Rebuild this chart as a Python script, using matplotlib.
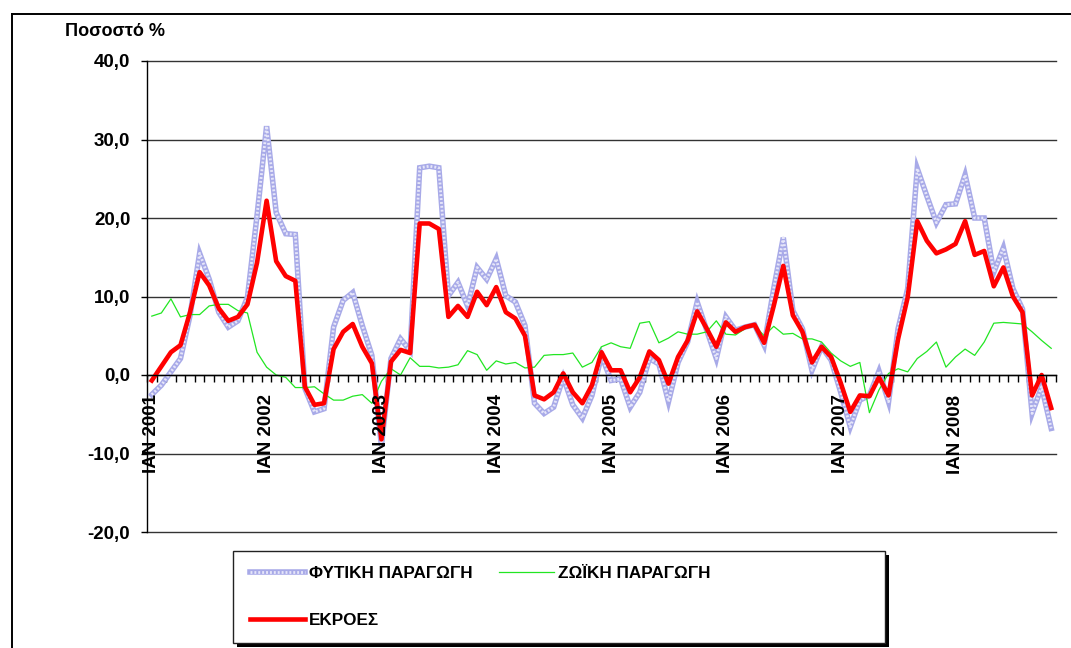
import matplotlib
matplotlib.use("Agg")
import matplotlib.pyplot as plt
from matplotlib.lines import Line2D
from matplotlib.patches import Rectangle
from matplotlib.ticker import FuncFormatter, FixedLocator

plt.rcParams['font.family'] = ['Liberation Sans', 'DejaVu Sans']

# --- data: monthly % change, Jan 2001 .. Nov 2008 ---
fytiki = [-2.5, -1.3, 0.4, 2.1, 7.6, 15.5, 12.2, 8.0, 6.1, 6.9, 9.9, 20.3,
          31.7, 20.7, 18.0, 17.9, -1.7, -4.7, -4.3, 6.1, 9.5, 10.5, 6.3, 2.5,
          -9.0, 2.1, 4.6, 3.1, 26.4, 26.6, 26.4, 10.1, 11.8, 8.8, 13.7, 12.2,
          14.8, 10.1, 9.3, 6.3, -3.6, -4.9, -4.1, -0.3, -3.8, -5.5, -2.6, 2.5,
          -0.7, -0.5, -4.1, -2.2, 2.1, 1.4, -3.4, 1.6, 4.2, 9.3, 5.7, 2.1,
          7.4, 5.7, 6.1, 6.4, 3.8, 11.0, 17.5, 8.2, 5.9, 0.6, 3.6, 1.9,
          -2.2, -6.6, -3.2, -2.6, 0.5, -3.4, 5.9, 11.0, 26.3, 22.8, 19.4, 21.7,
          21.8, 25.5, 20.0, 20.0, 13.1, 16.2, 11.0, 8.4, -4.9, -1.5, -6.8]

zoiki = [7.5, 7.9, 9.7, 7.4, 7.7, 7.7, 8.8, 9.0, 9.0, 8.2, 7.9, 2.9,
         1.0, 0.0, -0.3, -1.6, -1.6, -1.5, -2.4, -3.2, -3.2, -2.7, -2.5, -3.6,
         -0.8, 0.8, 0.0, 2.2, 1.1, 1.1, 0.9, 1.0, 1.3, 3.1, 2.6, 0.6,
         1.8, 1.4, 1.6, 0.9, 1.0, 2.5, 2.6, 2.6, 2.8, 1.0, 1.6, 3.6,
         4.1, 3.6, 3.4, 6.6, 6.8, 4.1, 4.7, 5.5, 5.2, 5.2, 5.5, 6.9,
         5.2, 5.1, 5.9, 6.3, 5.0, 6.2, 5.2, 5.3, 4.6, 4.6, 4.2, 2.8,
         1.8, 1.1, 1.6, -4.8, -1.9, 0.2, 0.8, 0.4, 2.1, 3.0, 4.2, 1.0,
         2.3, 3.3, 2.5, 4.2, 6.6, 6.7, 6.6, 6.5, 5.5, 4.4, 3.4]

ekroes = [-0.7, 1.1, 2.9, 3.8, 8.0, 13.1, 11.4, 8.5, 6.9, 7.4, 9.0, 14.3,
          22.2, 14.5, 12.6, 12.0, -1.5, -3.8, -3.6, 3.3, 5.5, 6.5, 3.6, 1.5,
          -8.2, 1.7, 3.2, 2.8, 19.3, 19.3, 18.6, 7.4, 8.8, 7.4, 10.6, 8.9,
          11.2, 8.0, 7.2, 5.0, -2.6, -3.1, -2.2, 0.2, -2.2, -3.6, -1.3, 2.9,
          0.6, 0.6, -2.2, -0.3, 3.0, 1.9, -1.1, 2.3, 4.4, 8.1, 5.9, 3.6,
          6.7, 5.5, 6.1, 6.4, 4.1, 8.8, 13.9, 7.6, 5.5, 1.6, 3.6, 2.3,
          -1.0, -4.7, -2.6, -2.7, -0.3, -2.6, 4.6, 9.9, 19.6, 17.1, 15.5, 16.0,
          16.7, 19.6, 15.3, 15.8, 11.3, 13.7, 10.0, 8.0, -2.6, 0.0, -4.2]

years = [2001, 2002, 2003, 2004, 2005, 2006, 2007, 2008]
year_labels = ["ΙΑΝ %d" % y for y in years]
y_ticks = [-20, -10, 0, 10, 20, 30, 40]

n = len(ekroes)
x = list(range(n))

W, H = 1071, 648
fig = plt.figure(figsize=(W / 100, H / 100), dpi=100)
ax = fig.add_axes([147 / W, 1 - 532 / H, (1056 - 147) / W, (532 - 61) / H])

# outer chart frame (runs off the right and bottom of the picture)
fig.add_artist(Line2D([12 / W, 1.0], [1 - 14 / H, 1 - 14 / H], color='black', lw=1.4))
fig.add_artist(Line2D([12 / W, 12 / W], [1 - 14 / H, 0.0], color='black', lw=1.4))

# lines
b1, = ax.plot(x, fytiki, color='#a8aae8', lw=4.0, zorder=3, solid_joinstyle='miter')
b2, = ax.plot(x, fytiki, color='#e6e6f9', lw=2.0, zorder=3.1, dashes=(0.7, 0.7))
g, = ax.plot(x, zoiki, color='#22e622', lw=0.9, zorder=4)
r, = ax.plot(x, ekroes, color='#ff0000', lw=3.3, zorder=5)

ax.set_xlim(-0.5, n - 0.5)
ax.set_ylim(-20, 40)

# axes styling
for s in ['top', 'right']:
    ax.spines[s].set_visible(False)
ax.spines['bottom'].set_position(('data', 0))
ax.spines['bottom'].set_zorder(6)
ax.spines['left'].set_linewidth(1.0)
ax.spines['bottom'].set_linewidth(1.0)

ax.yaxis.set_major_locator(FixedLocator(y_ticks))
ax.yaxis.set_major_formatter(FuncFormatter(lambda v, p: ("%.1f" % v).replace('.', ',')))
ax.tick_params(axis='y', direction='out', length=4, width=1, pad=8,
               labelsize=13.5)
for lab in ax.get_yticklabels():
    lab.set_fontweight('bold')

ax.xaxis.set_major_locator(FixedLocator([i - 0.5 for i in range(n + 1)]))
ax.tick_params(axis='x', direction='out', length=5, width=1, labelbottom=False)

ax.yaxis.grid(True, color='#333333', lw=1.0)
for gl in ax.get_ygridlines():
    gl.set_clip_on(False)
ax.set_axisbelow(True)

# year labels under the zero axis
for k, lab in enumerate(year_labels):
    ax.annotate(lab, xy=(12 * k, 0), xytext=(0, -14), textcoords='offset points',
                rotation=90, ha='center', va='top', fontsize=13.5,
                fontweight='bold', zorder=7)

fig.text(65 / W, 1 - 31 / H, "Ποσοστό %", fontsize=13, fontweight='bold',
         ha='left', va='center')

# legend box with shadow
fig.add_artist(Rectangle((237 / W, 1 - 647 / H), 652 / W, 92 / H,
                         facecolor='black', edgecolor='none', zorder=1))
fig.add_artist(Rectangle((233 / W, 1 - 643 / H), 652 / W, 92 / H,
                         facecolor='white', edgecolor='#222222', lw=1.0, zorder=2))

leg = fig.legend([(b1, b2), r, g], ["ΦΥΤΙΚΗ ΠΑΡΑΓΩΓΗ", "ΕΚΡΟΕΣ", "ΖΩΪΚΗ ΠΑΡΑΓΩΓΗ"],
                 ncol=2, loc='upper left', bbox_to_anchor=(250 / W, 1 - 566 / H),
                 frameon=False, borderpad=0, borderaxespad=0,
                 handlelength=3.2, handletextpad=0.25, columnspacing=1.55,
                 labelspacing=1.85, prop={'size': 12.3, 'weight': 'bold'})
leg.set_zorder(3)

fig.savefig("out.png", dpi=100)
